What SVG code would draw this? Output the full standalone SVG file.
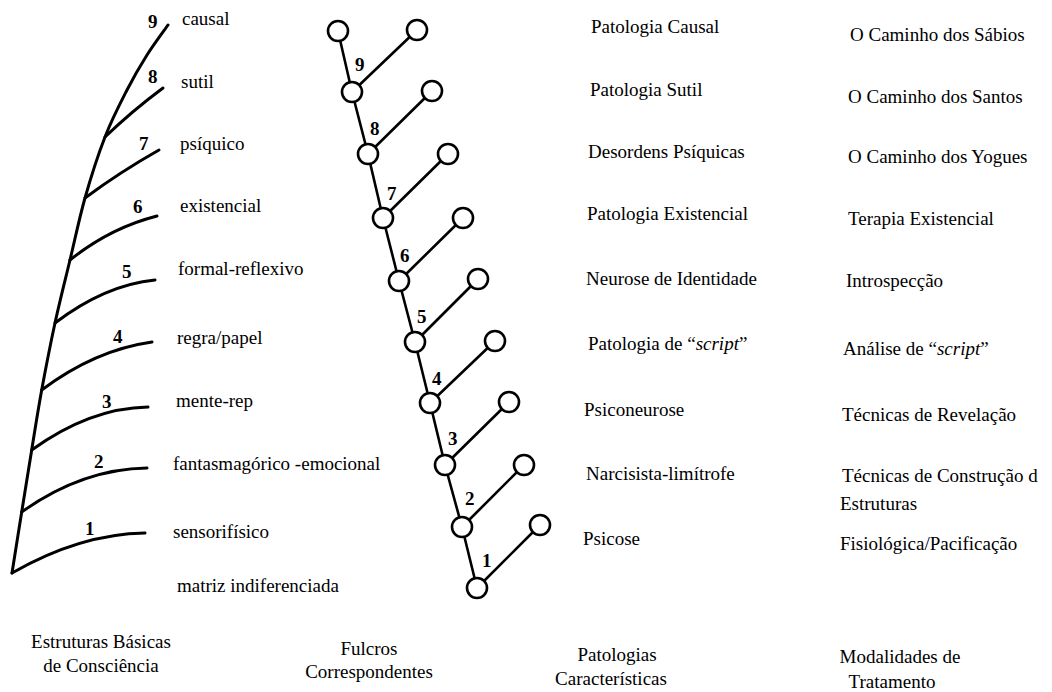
<svg xmlns="http://www.w3.org/2000/svg" width="1052" height="692" viewBox="0 0 1052 692">
<style>
  text { font-family: "Liberation Serif", "Times New Roman", serif; fill: #000; }
  .lbl { font-size: 19px; }
  .num { font-size: 19px; font-weight: bold; }
  .tree { fill: none; stroke: #000; stroke-width: 3; stroke-linecap: round; stroke-linejoin: round; }
  .edge { fill: none; stroke: #000; stroke-width: 2.6; stroke-linecap: round; }
  .fnode { fill: #fff; stroke: #000; stroke-width: 2.6; }
  .head { font-size: 19px; text-anchor: middle; }
</style>
<rect width="1052" height="692" fill="#fff"/>

<!-- Left tree: basic structures of consciousness -->
<g id="structures-tree">
  <path class="tree" d="M12,573 C13.6,562.8 18.4,532.5 21.7,512 C25,491.5 28.4,470.3 31.7,450 C35,429.7 37.8,411.2 41.7,390 C45.6,368.8 50.3,344.7 55,323 C59.7,301.3 65,280.8 70,260 C75,239.2 79.2,218.5 85,198 C90.8,177.5 98,155 105,137 C112,119 120,103.7 127,90 C134,76.3 140.2,65.8 147,55 C153.8,44.2 164.5,30 168,25"/>
  <path class="tree" d="M12,573 Q80,534 145,533"/>
  <path class="tree" d="M21.7,512 Q82,469 147,468"/>
  <path class="tree" d="M31.7,450 Q90,408 148,407"/>
  <path class="tree" d="M41.7,390 Q95,350 152,342"/>
  <path class="tree" d="M55,323 Q105,285 155,280"/>
  <path class="tree" d="M70,260 Q110,228 157,216"/>
  <path class="tree" d="M85,198 Q120,172 159,150"/>
  <path class="tree" d="M105,137 Q132,111 163,88"/>
</g>
<g id="structures-numbers">
  <text class="num" x="148" y="28">9</text>
  <text class="num" x="148" y="83">8</text>
  <text class="num" x="139" y="150">7</text>
  <text class="num" x="133" y="213">6</text>
  <text class="num" x="122" y="278">5</text>
  <text class="num" x="113" y="343">4</text>
  <text class="num" x="102" y="408">3</text>
  <text class="num" x="94" y="468">2</text>
  <text class="num" x="85" y="535">1</text>
</g>
<g id="structures-labels">
  <text class="lbl" x="182" y="25">causal</text>
  <text class="lbl" x="181" y="88">sutil</text>
  <text class="lbl" x="180" y="150">psíquico</text>
  <text class="lbl" x="180" y="212">existencial</text>
  <text class="lbl" x="178" y="275">formal-reflexivo</text>
  <text class="lbl" x="177" y="344">regra/papel</text>
  <text class="lbl" x="176" y="407">mente-rep</text>
  <text class="lbl" x="173" y="470">fantasmagórico -emocional</text>
  <text class="lbl" x="173" y="538">sensorifísico</text>
  <text class="lbl" x="177" y="592">matriz indiferenciada</text>
</g>

<!-- Fulcrum connectors -->
<g id="connectors">
  <line class="edge" x1="338" y1="31" x2="352" y2="92"/>
  <line class="edge" x1="352" y1="92" x2="417" y2="30"/>
  <line class="edge" x1="352" y1="92" x2="368" y2="154"/>
  <line class="edge" x1="368" y1="154" x2="432" y2="91"/>
  <line class="edge" x1="368" y1="154" x2="383" y2="218"/>
  <line class="edge" x1="383" y1="218" x2="448" y2="154"/>
  <line class="edge" x1="383" y1="218" x2="399" y2="281"/>
  <line class="edge" x1="399" y1="281" x2="463" y2="218"/>
  <line class="edge" x1="399" y1="281" x2="415" y2="342"/>
  <line class="edge" x1="415" y1="342" x2="478" y2="279"/>
  <line class="edge" x1="415" y1="342" x2="430" y2="403"/>
  <line class="edge" x1="430" y1="403" x2="495" y2="341"/>
  <line class="edge" x1="430" y1="403" x2="445" y2="465"/>
  <line class="edge" x1="445" y1="465" x2="509" y2="402"/>
  <line class="edge" x1="445" y1="465" x2="462" y2="527"/>
  <line class="edge" x1="462" y1="527" x2="524" y2="465"/>
  <line class="edge" x1="462" y1="527" x2="477" y2="588"/>
  <line class="edge" x1="477" y1="588" x2="540" y2="525"/>
</g>

<!-- Fulcrum nodes -->
<g id="fulcrum-9">
  <circle class="fnode" cx="338" cy="31" r="10"/>
  <circle class="fnode" cx="417" cy="30" r="10"/>
  <circle class="fnode" cx="352" cy="92" r="10"/>
  <text class="num" x="355" y="71">9</text>
</g>
<g id="fulcrum-8">
  <circle class="fnode" cx="432" cy="91" r="10"/>
  <circle class="fnode" cx="368" cy="154" r="10"/>
  <text class="num" x="370" y="135">8</text>
</g>
<g id="fulcrum-7">
  <circle class="fnode" cx="448" cy="154" r="10"/>
  <circle class="fnode" cx="383" cy="218" r="10"/>
  <text class="num" x="387" y="200">7</text>
</g>
<g id="fulcrum-6">
  <circle class="fnode" cx="463" cy="218" r="10"/>
  <circle class="fnode" cx="399" cy="281" r="10"/>
  <text class="num" x="400" y="262">6</text>
</g>
<g id="fulcrum-5">
  <circle class="fnode" cx="478" cy="279" r="10"/>
  <circle class="fnode" cx="415" cy="342" r="10"/>
  <text class="num" x="417" y="323">5</text>
</g>
<g id="fulcrum-4">
  <circle class="fnode" cx="495" cy="341" r="10"/>
  <circle class="fnode" cx="430" cy="403" r="10"/>
  <text class="num" x="432" y="385">4</text>
</g>
<g id="fulcrum-3">
  <circle class="fnode" cx="509" cy="402" r="10"/>
  <circle class="fnode" cx="445" cy="465" r="10"/>
  <text class="num" x="448" y="445">3</text>
</g>
<g id="fulcrum-2">
  <circle class="fnode" cx="524" cy="465" r="10"/>
  <circle class="fnode" cx="462" cy="527" r="10"/>
  <text class="num" x="465" y="505">2</text>
</g>
<g id="fulcrum-1">
  <circle class="fnode" cx="540" cy="525" r="10"/>
  <circle class="fnode" cx="477" cy="588" r="10"/>
  <text class="num" x="482" y="567">1</text>
</g>

<!-- Pathologies -->
<g id="pathologies">
  <text class="lbl" x="591" y="33">Patologia Causal</text>
  <text class="lbl" x="590" y="96">Patologia Sutil</text>
  <text class="lbl" x="588" y="158">Desordens Psíquicas</text>
  <text class="lbl" x="587" y="220">Patologia Existencial</text>
  <text class="lbl" x="586" y="285">Neurose de Identidade</text>
  <text class="lbl" x="588" y="350">Patologia de “<tspan font-style="italic">script</tspan>”</text>
  <text class="lbl" x="584" y="416">Psiconeurose</text>
  <text class="lbl" x="586" y="480">Narcisista-limítrofe</text>
  <text class="lbl" x="583" y="545">Psicose</text>
</g>

<!-- Treatments -->
<g id="treatments">
  <text class="lbl" x="850" y="41">O Caminho dos Sábios</text>
  <text class="lbl" x="848" y="103">O Caminho dos Santos</text>
  <text class="lbl" x="848" y="163">O Caminho dos Yogues</text>
  <text class="lbl" x="848" y="225">Terapia Existencial</text>
  <text class="lbl" x="846" y="287">Introspecção</text>
  <text class="lbl" x="843" y="355">Análise de “<tspan font-style="italic">script</tspan>”</text>
  <text class="lbl" x="842" y="421">Técnicas de Revelação</text>
  <text class="lbl" x="842" y="482">Técnicas de Construção d</text>
  <text class="lbl" x="840" y="510">Estruturas</text>
  <text class="lbl" x="840" y="550">Fisiológica/Pacificação</text>
</g>

<!-- Column headings -->
<g id="headings">
  <text class="head" x="101" y="648">Estruturas Básicas</text>
  <text class="head" x="101" y="672">de Consciência</text>
  <text class="head" x="369" y="655">Fulcros</text>
  <text class="head" x="369" y="678">Correspondentes</text>
  <text class="head" x="617" y="661">Patologias</text>
  <text class="head" x="611" y="685">Características</text>
  <text class="head" x="900" y="663">Modalidades de</text>
  <text class="head" x="892" y="688">Tratamento</text>
</g>
</svg>
